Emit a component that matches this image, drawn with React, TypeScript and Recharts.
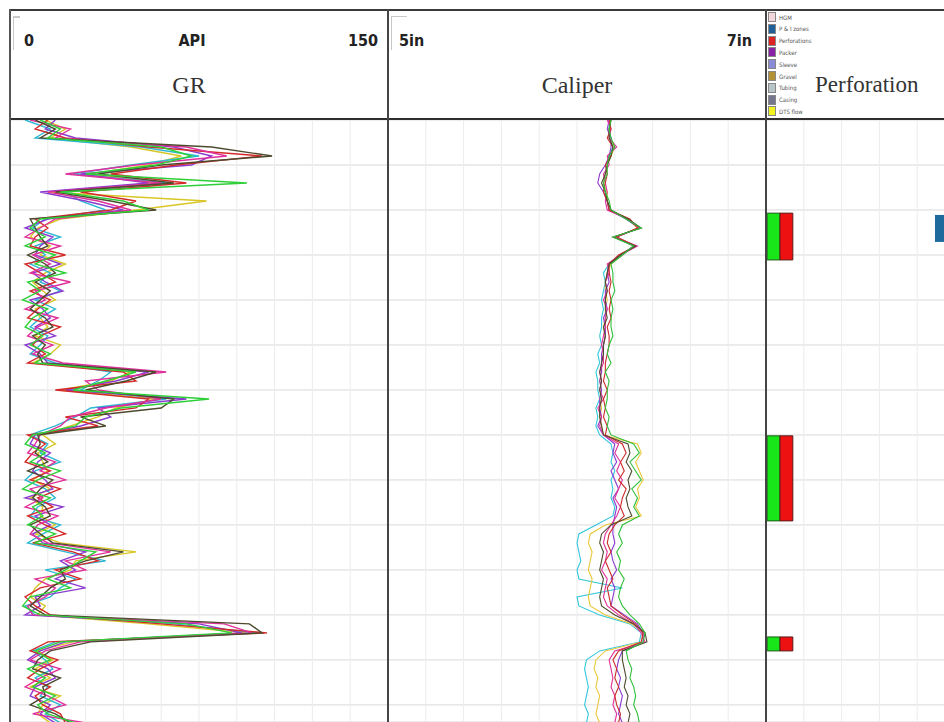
import React from 'react';
import { LineChart, Line, XAxis, YAxis, CartesianGrid, ComposedChart, ReferenceArea } from 'recharts';

// depth index (grid every 10 units)
const DEPTH = [0,2,4,6,8,10,12,14,16,18,20,22,24,26,28,30,32,34,36,38,40,42,44,46,48,50,52,54,56,58,60,62,64,66,68,70,72,74,76,78,80,82,84,86,88,90,92,94,96,98,100,102,104,106,108,110,112,114,116,118,120,122,124,126,128,130,132,134];
const DEPTH_TICKS = [10,20,30,40,50,60,70,80,90,100,110,120,130];
const GR_TICKS = [15,30,45,60,75,90,105,120,135];
const CAL_TICKS = [5.2,5.4,5.6,5.8,6,6.2,6.4,6.6,6.8];
const PERF_TICKS = [1,2,3,4,5,6,7,8,9];

// GR runs (API)
const GR_GREEN  = [12,20,15,60,72,58,30,94,20,45,55,12,8,14,6,18,10,22,7,12,5,15,9,6,13,8,16,10,50,38,25,79,44,30,26,9,6,14,8,20,11,5,16,9,13,7,18,10,34,28,22,15,24,8,5,12,70,88,20,10,16,7,14,9,18,11,15,26];
const GR_MAGENTA= [8,24,18,70,86,50,22,60,15,35,48,18,12,6,20,9,16,8,24,10,14,6,19,11,7,17,9,21,62,30,35,60,38,24,20,12,10,7,18,12,22,8,13,6,19,11,8,15,40,22,30,10,18,14,7,9,85,96,28,14,8,20,12,6,15,22,9,30];
const GR_RED    = [15,10,22,55,100,66,40,70,28,50,40,10,15,10,8,22,6,12,18,8,16,11,7,20,12,9,14,7,45,50,18,55,50,22,35,7,14,9,6,16,8,20,11,17,7,14,22,9,25,35,18,28,12,6,10,16,60,102,15,8,19,12,7,16,10,13,20,22];
const GR_PURPLE = [18,14,26,65,80,72,28,55,12,30,45,15,6,17,12,10,20,9,14,21,8,13,16,10,18,6,12,15,55,42,22,70,35,40,28,10,8,16,11,9,14,17,6,21,10,16,9,13,30,20,26,18,30,10,12,6,75,92,22,12,7,15,18,10,8,16,12,18];
const GR_DARK   = [10,18,12,80,104,60,35,65,18,40,58,8,10,12,15,7,14,18,10,16,12,8,14,17,9,14,11,13,58,46,30,65,60,28,38,11,12,10,15,7,17,12,9,14,16,8,12,17,45,30,20,22,16,12,8,14,95,100,32,16,11,9,20,13,14,8,18,24];
const GR_CYAN   = [6,16,10,52,75,48,25,62,22,28,38,14,9,20,10,14,8,16,12,20,10,18,12,8,15,12,8,18,40,35,28,62,32,26,18,8,15,12,20,10,6,14,18,11,8,20,13,7,22,38,14,26,20,16,6,10,65,98,18,9,14,17,10,15,12,20,14,20];
const GR_YELLOW = [14,22,16,48,68,55,32,58,15,78,50,20,11,8,16,12,22,14,9,13,18,10,12,15,10,20,16,9,48,40,20,58,42,35,24,13,18,11,13,15,9,16,8,13,12,18,10,20,50,26,24,14,10,8,14,11,55,94,25,11,17,10,16,8,20,13,11,16];

// Caliper runs (in)
const CAL_GREEN  = [6.18,6.17,6.18,6.20,6.17,6.16,6.16,6.14,6.15,6.17,6.18,6.26,6.34,6.19,6.30,6.24,6.18,6.19,6.19,6.20,6.18,6.19,6.18,6.18,6.19,6.17,6.16,6.18,6.15,6.17,6.16,6.16,6.15,6.17,6.16,6.18,6.30,6.33,6.28,6.31,6.34,6.29,6.32,6.30,6.33,6.24,6.22,6.24,6.21,6.23,6.22,6.25,6.23,6.22,6.24,6.28,6.33,6.36,6.35,6.26,6.27,6.29,6.28,6.30,6.31,6.30,6.32,6.33];
const CAL_RED    = [6.17,6.18,6.16,6.19,6.18,6.15,6.16,6.15,6.14,6.16,6.17,6.28,6.32,6.21,6.31,6.22,6.17,6.17,6.18,6.17,6.18,6.17,6.18,6.16,6.17,6.17,6.16,6.15,6.15,6.14,6.16,6.14,6.15,6.14,6.16,6.15,6.24,6.26,6.23,6.25,6.22,6.26,6.24,6.23,6.25,6.20,6.17,6.16,6.18,6.15,6.17,6.19,6.16,6.17,6.18,6.24,6.31,6.35,6.34,6.22,6.19,6.21,6.20,6.22,6.20,6.21,6.23,6.22];
const CAL_MAGENTA= [6.16,6.18,6.17,6.21,6.16,6.17,6.14,6.15,6.16,6.15,6.16,6.27,6.33,6.20,6.32,6.23,6.16,6.17,6.15,6.16,6.14,6.16,6.15,6.15,6.14,6.13,6.14,6.14,6.12,6.13,6.12,6.14,6.11,6.13,6.12,6.14,6.22,6.20,6.23,6.21,6.24,6.22,6.20,6.23,6.21,6.18,6.15,6.14,6.16,6.15,6.13,6.16,6.15,6.14,6.16,6.22,6.30,6.34,6.36,6.20,6.17,6.18,6.19,6.18,6.20,6.19,6.21,6.20];
const CAL_PURPLE = [6.17,6.16,6.18,6.18,6.17,6.15,6.12,6.11,6.14,6.16,6.17,6.26,6.33,6.21,6.30,6.24,6.17,6.16,6.17,6.15,6.15,6.16,6.14,6.15,6.15,6.14,6.13,6.13,6.13,6.12,6.13,6.12,6.12,6.13,6.11,6.14,6.20,6.19,6.21,6.18,6.20,6.22,6.19,6.21,6.20,6.19,6.19,6.20,6.18,6.19,6.21,6.18,6.20,6.19,6.18,6.25,6.32,6.35,6.35,6.24,6.22,6.21,6.23,6.22,6.24,6.23,6.22,6.24];
const CAL_DARK   = [6.18,6.17,6.17,6.19,6.18,6.16,6.15,6.13,6.15,6.16,6.18,6.27,6.34,6.19,6.31,6.23,6.17,6.16,6.15,6.16,6.15,6.15,6.16,6.14,6.15,6.14,6.14,6.13,6.12,6.13,6.12,6.13,6.12,6.12,6.13,6.14,6.27,6.28,6.26,6.29,6.27,6.28,6.26,6.27,6.29,6.18,6.13,6.12,6.14,6.13,6.12,6.14,6.13,6.12,6.13,6.20,6.30,6.36,6.37,6.24,6.24,6.25,6.26,6.25,6.27,6.26,6.28,6.27];
const CAL_CYAN   = [6.17,6.17,6.18,6.19,6.17,6.16,6.15,6.14,6.15,6.16,6.17,6.26,6.33,6.20,6.30,6.23,6.17,6.14,6.15,6.14,6.13,6.14,6.13,6.13,6.12,6.13,6.11,6.12,6.10,6.11,6.11,6.12,6.10,6.11,6.10,6.12,6.18,6.19,6.18,6.20,6.18,6.19,6.18,6.20,6.19,6.10,6.01,6.00,6.01,6.02,6.00,6.01,6.24,6.00,6.01,6.12,6.28,6.34,6.33,6.12,6.05,6.04,6.05,6.06,6.05,6.04,6.06,6.05];
const CAL_YELLOW = [6.18,6.17,6.17,6.20,6.18,6.16,6.15,6.14,6.16,6.16,6.17,6.27,6.32,6.21,6.30,6.24,6.18,6.16,6.15,6.15,6.16,6.15,6.15,6.14,6.15,6.14,6.14,6.13,6.13,6.12,6.13,6.12,6.13,6.12,6.13,6.14,6.32,6.34,6.31,6.33,6.35,6.32,6.33,6.31,6.34,6.15,6.07,6.06,6.08,6.07,6.06,6.08,6.07,6.06,6.07,6.15,6.29,6.35,6.34,6.15,6.10,6.09,6.11,6.10,6.12,6.11,6.10,6.12];

// Perforation intervals (depth top/bottom)
const PERF_TOP    = [20.7, 70.2, 114.9];
const PERF_BOTTOM = [31.1, 89.1, 118.0];
const PACKER_TOP = [21.1];
const PACKER_BOTTOM = [27.1];

const LEGEND_NAMES  = ['HGM', 'P & I zones', 'Perforations', 'Packer', 'Sleeve', 'Gravel', 'Tubing', 'Casing', 'DTS flow'];
const LEGEND_COLORS = ['#f3d6dc', '#1f5f95', '#dd2222', '#8a22a8', '#8a8ad6', '#b39236', '#b7c4c8', '#76768e', '#f2f21e'];

const GR_RUNS = [
  { key: 'g1', vals: GR_YELLOW,  color: '#d9c626' },
  { key: 'g2', vals: GR_CYAN,    color: '#2fb8d2' },
  { key: 'g3', vals: GR_PURPLE,  color: '#8b3ad0' },
  { key: 'g4', vals: GR_RED,     color: '#d42a2a' },
  { key: 'g5', vals: GR_MAGENTA, color: '#e0309a' },
  { key: 'g6', vals: GR_DARK,    color: '#4d4a2e' },
  { key: 'g7', vals: GR_GREEN,   color: '#2fcf3a' },
];
const CAL_RUNS = [
  { key: 'c1', vals: CAL_CYAN,    color: '#33c8dc' },
  { key: 'c2', vals: CAL_YELLOW,  color: '#e9c83a' },
  { key: 'c3', vals: CAL_PURPLE,  color: '#8b3ad0' },
  { key: 'c4', vals: CAL_MAGENTA, color: '#e0309a' },
  { key: 'c5', vals: CAL_RED,     color: '#cc2a2a' },
  { key: 'c6', vals: CAL_DARK,    color: '#4d4a2e' },
  { key: 'c7', vals: CAL_GREEN,   color: '#2fbf3a' },
];

const grData = DEPTH.map((d, i) => {
  const row: any = { depth: d };
  GR_RUNS.forEach(r => { row[r.key] = r.vals[i]; });
  return row;
});
const calData = DEPTH.map((d, i) => {
  const row: any = { depth: d };
  CAL_RUNS.forEach(r => { row[r.key] = r.vals[i]; });
  return row;
});

const TRACK_W = 378;
const BODY_H = 602;
const DEPTH_DOMAIN: [number, number] = [0, 133.8];

const sans = "'Liberation Sans Narrow', 'DejaVu Sans Condensed', 'Liberation Sans', sans-serif";
const serif = "'Liberation Serif', 'DejaVu Serif', serif";

function Grids() {
  return (
    <>
      <CartesianGrid vertical={false} stroke="#d9d9d9" strokeWidth={1} />
      <CartesianGrid horizontal={false} stroke="#ececec" strokeWidth={1} />
    </>
  );
}

function Hdr({ left, children }: any) {
  return <div style={{ position: 'absolute', left, top: 10, width: TRACK_W, height: 110 }}>{children}</div>;
}

export default function App() {
  return (
    <div style={{ position: 'absolute', left: 0, top: 0, width: 944, height: 722, overflow: 'hidden', background: '#fff' }}>
      {/* GR track */}
      <div style={{ position: 'absolute', left: 10, top: 120 }}>
        <LineChart layout="vertical" width={TRACK_W} height={BODY_H} data={grData} margin={{ top: 0, right: 0, left: 0, bottom: 0 }}>
          <Grids />
          <XAxis type="number" domain={[0, 150]} ticks={GR_TICKS} hide allowDataOverflow />
          <YAxis type="number" dataKey="depth" domain={DEPTH_DOMAIN} ticks={DEPTH_TICKS} hide allowDataOverflow />
          {GR_RUNS.map(r => (
            <Line key={r.key} dataKey={r.key} stroke={r.color} strokeWidth={1.4} dot={false} isAnimationActive={false} />
          ))}
        </LineChart>
      </div>

      {/* Caliper track */}
      <div style={{ position: 'absolute', left: 388, top: 120 }}>
        <LineChart layout="vertical" width={TRACK_W} height={BODY_H} data={calData} margin={{ top: 0, right: 0, left: 0, bottom: 0 }}>
          <Grids />
          <XAxis type="number" domain={[5, 7]} ticks={CAL_TICKS} hide allowDataOverflow />
          <YAxis type="number" dataKey="depth" domain={DEPTH_DOMAIN} ticks={DEPTH_TICKS} hide allowDataOverflow />
          {CAL_RUNS.map(r => (
            <Line key={r.key} dataKey={r.key} stroke={r.color} strokeWidth={1.1} dot={false} isAnimationActive={false} />
          ))}
        </LineChart>
      </div>

      {/* Perforation track */}
      <div style={{ position: 'absolute', left: 766, top: 120 }}>
        <ComposedChart layout="vertical" width={TRACK_W} height={BODY_H} data={[{ depth: 0 }, { depth: 133.8 }]} margin={{ top: 0, right: 0, left: 0, bottom: 0 }}>
          <Grids />
          <XAxis type="number" domain={[0, 10]} ticks={PERF_TICKS} hide allowDataOverflow />
          <YAxis type="number" dataKey="depth" domain={DEPTH_DOMAIN} ticks={DEPTH_TICKS} hide allowDataOverflow />
          {PERF_TOP.map((t, i) => (
            <ReferenceArea key={'g' + i} x1={0.03} x2={0.37} y1={t} y2={PERF_BOTTOM[i]} fill="#19e619" fillOpacity={1} stroke="#1a5a1a" strokeWidth={1} ifOverflow="visible" />
          ))}
          {PERF_TOP.map((t, i) => (
            <ReferenceArea key={'r' + i} x1={0.37} x2={0.71} y1={t} y2={PERF_BOTTOM[i]} fill="#ee1111" fillOpacity={1} stroke="#5a1a1a" strokeWidth={1} ifOverflow="visible" />
          ))}
          {PACKER_TOP.map((t, i) => (
            <ReferenceArea key={'p' + i} x1={4.47} x2={4.9} y1={t} y2={PACKER_BOTTOM[i]} fill="#1f6a9c" fillOpacity={1} ifOverflow="visible" />
          ))}
        </ComposedChart>
      </div>

      {/* headers */}
      <Hdr left={10}>
        <div style={{ position: 'absolute', left: 3, top: 6, width: 7, height: 2, background: '#c8c8c8' }} />
        <div style={{ position: 'absolute', left: 3, top: 6, width: 1, height: 34, background: '#c8c8c8' }} />
        <span style={{ position: 'absolute', left: 14, top: 21, font: `bold 16px ${sans}`, color: '#222' }}>0</span>
        <span style={{ position: 'absolute', left: 0, width: 364, textAlign: 'center', top: 21, font: `bold 16px ${sans}`, color: '#222' }}>API</span>
        <span style={{ position: 'absolute', right: 10, top: 21, font: `bold 16px ${sans}`, color: '#222' }}>150</span>
        <span style={{ position: 'absolute', left: 0, width: 358, textAlign: 'center', top: 62, font: `24px ${serif}`, color: '#333' }}>GR</span>
      </Hdr>
      <Hdr left={388}>
        <div style={{ position: 'absolute', left: 3, top: 6, width: 16, height: 1, background: '#c8c8c8' }} />
        <div style={{ position: 'absolute', left: 3, top: 6, width: 1, height: 34, background: '#c8c8c8' }} />
        <span style={{ position: 'absolute', left: 11, top: 21, font: `bold 16px ${sans}`, color: '#222' }}>5in</span>
        <span style={{ position: 'absolute', right: 14, top: 21, font: `bold 16px ${sans}`, color: '#222' }}>7in</span>
        <span style={{ position: 'absolute', left: 0, width: TRACK_W, textAlign: 'center', top: 62, font: `24px ${serif}`, color: '#333' }}>Caliper</span>
      </Hdr>
      <Hdr left={766}>
        {LEGEND_NAMES.map((n, i) => (
          <div key={n} style={{ position: 'absolute', left: 2, top: 2 + i * 11.8, display: 'flex', alignItems: 'center', gap: 3 }}>
            <span style={{ width: 8, height: 10, background: LEGEND_COLORS[i], border: '1px solid #888', boxSizing: 'border-box' }} />
            <span style={{ font: `6px ${sans}`, color: '#555', whiteSpace: 'nowrap' }}>{n}</span>
          </div>
        ))}
        <span style={{ position: 'absolute', left: 49, top: 62, font: `23px ${serif}`, color: '#333' }}>Perforation</span>
      </Hdr>

      {/* frame lines */}
      <div style={{ position: 'absolute', left: 10, top: 9, width: 934, height: 2, background: '#3a3a3a' }} />
      <div style={{ position: 'absolute', left: 10, top: 118, width: 934, height: 2, background: '#2e2e2e' }} />
      <div style={{ position: 'absolute', left: 9, top: 9, width: 2, height: 713, background: '#555' }} />
      <div style={{ position: 'absolute', left: 387, top: 9, width: 2, height: 713, background: '#444' }} />
      <div style={{ position: 'absolute', left: 765, top: 9, width: 2, height: 713, background: '#444' }} />
    </div>
  );
}
